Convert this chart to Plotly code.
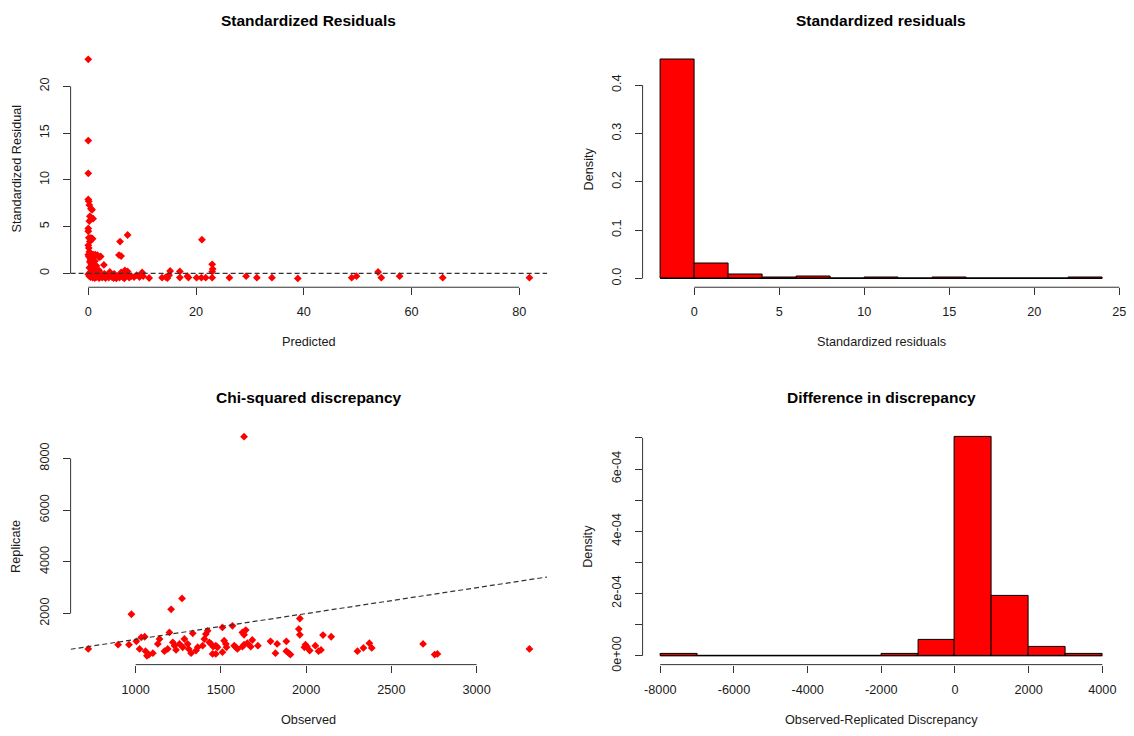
import plotly.graph_objects as go

# ---------------- Data ----------------
# Panel 1: Standardized residuals vs predicted
pred = [0.0, 0.0, 0.0, 0.0, 0.1, 0.2, 0.5, 0.7, 0.3, 0.6, 0.9, 0.2, 0.0, 0.0, 0.1, 0.5, 0.8, 0.3, 0.0, 0.1,
        0.2, 0.0, 0.5, 1.0, 1.3, 1.7, 2.0, 2.3, 0.4, 0.8, 1.2, 0.3, 0.6, 1.0, 1.5, 2.9, 0.2, 0.7, 1.3, 2.0,
        0.1, 0.4, 0.9, 1.1, 0.5, 1.6,
        5.9, 7.3, 5.7, 6.1, 21.1, 23.0, 23.1, 23.0,
        0.0, 0.2, 0.4, 0.6, 0.8, 1.0, 1.2, 1.5, 1.8, 2.0, 2.3, 2.6, 2.9, 3.2, 3.5, 3.8, 4.1, 4.4, 4.7, 5.0,
        5.2, 5.5, 5.8, 6.1, 6.4, 6.7, 7.0, 7.3, 7.6, 8.0, 8.5, 9.0, 9.5, 10.0, 10.2, 4.0, 6.8, 3.0, 0.3, 1.3,
        2.2, 4.8,
        11.3, 13.7, 14.4, 14.7, 15.2, 15.0, 17.0, 17.0, 18.4, 18.6, 20.1, 21.0, 21.8, 23.0, 26.2, 29.3, 31.3,
        34.1, 38.9, 48.9, 49.8, 53.8, 54.4, 57.8, 65.8, 81.9]
std_resid = [22.9, 14.2, 10.7, 7.9, 7.7, 7.3, 6.9, 6.8, 6.1, 5.9, 5.85, 5.6, 4.8, 4.5, 3.8, 3.8, 3.7, 3.4, 3.0, 2.7,
             2.3, 2.0, 2.1, 2.0, 2.0, 1.95, 1.7, 1.8, 1.6, 1.5, 1.3, 1.2, 1.0, 0.9, 0.8, 0.9, 0.6, 0.5, 0.4, 0.3,
             1.8, 1.4, 1.1, 0.7, 0.2, 0.2,
             3.4, 4.1, 1.95, 1.85, 3.6, 0.96, 0.46, 0.18,
             -0.1, -0.3, -0.4, -0.2, -0.45, -0.3, -0.5, -0.4, -0.2, -0.5, -0.35, -0.45, -0.2, -0.5, -0.3, -0.45,
             -0.1, -0.4, -0.5, -0.2, -0.55, -0.3, -0.45, 0.1, -0.4, -0.55, -0.2, 0.2, -0.45, -0.3, -0.4, -0.2,
             -0.4, 0.1, -0.3, 0.15, 0.3, -0.05, 0.0, -0.15, 0.05, -0.05,
             -0.5, -0.46, -0.4, -0.5, 0.25, -0.2, 0.2, -0.45, -0.3, -0.45, -0.46, -0.46, -0.46, -0.46, -0.46,
             -0.3, -0.46, -0.46, -0.55, -0.46, -0.3, 0.14, -0.46, -0.3, -0.46, -0.46]

# Panel 2: histogram of standardized residuals (density)
resid_breaks = [-2, 0, 2, 4, 6, 8, 10, 12, 14, 16, 18, 20, 22, 24]
resid_density = [0.4535, 0.030, 0.0082, 0.002, 0.004, 0.0, 0.001, 0.0, 0.001, 0.0, 0.0, 0.0, 0.001]

# Panel 3: chi-squared discrepancy, observed vs replicate
observed = [722, 897, 961, 975, 1004, 1033, 1053, 1023, 1058, 1078, 1066, 1101, 1130, 1140, 1169, 1188,
            1198, 1208, 1218, 1228, 1237, 1257, 1276, 1272, 1286, 1305, 1311, 1325, 1335, 1354, 1364,
            1393, 1403, 1412, 1422, 1432, 1442, 1455, 1470, 1480, 1451, 1470, 1509, 1509, 1519, 1529,
            1533, 1568, 1578, 1588, 1626, 1646, 1636, 1597, 1636, 1655, 1626, 1684, 1675, 1717, 1791,
            1830, 1820, 1884, 1884, 1898, 1908, 1963, 1957, 1963, 1996, 1990, 2005, 2021, 2054, 2087,
            2073, 2099, 2147, 2301, 2336, 2371, 2385, 2686, 2754, 2770, 3310, 1636]
replicate = [632, 797, 797, 1973, 927, 1080, 1103, 632, 544, 414, 364, 467, 824, 1015, 544, 632,
             1272, 2165, 889, 759, 594, 824, 697, 2586, 1015, 824, 632, 467, 1234, 567, 697,
             759, 1015, 1207, 1333, 889, 824, 720, 759, 697, 440, 440, 1464, 506, 950, 824,
             697, 1525, 759, 697, 1272, 1360, 1180, 632, 797, 851, 720, 977, 720, 759, 927,
             824, 467, 927, 544, 467, 414, 1808, 1398, 1180, 797, 697, 720, 567, 759, 594,
             544, 1169, 1103, 544, 670, 851, 670, 824, 414, 440, 632, 8843]

# Panel 4: histogram of observed - replicated discrepancy (density)
diff_breaks = [-8000, -7000, -6000, -5000, -4000, -3000, -2000, -1000, 0, 1000, 2000, 3000, 4000]
diff_density = [5e-6, 0, 0, 0, 0, 0, 5e-6, 5e-5, 7.04e-4, 1.93e-4, 3.0e-5, 5e-6]

# Tick values / labels
p1_xticks = [0, 20, 40, 60, 80]
p1_yticks = [0, 5, 10, 15, 20]
p2_xticks = [0, 5, 10, 15, 20, 25]
p2_yticks = [0.0, 0.1, 0.2, 0.3, 0.4]
p2_ylabels = ["0.0", "0.1", "0.2", "0.3", "0.4"]
p3_xticks = [1000, 1500, 2000, 2500, 3000]
p3_yticks = [2000, 4000, 6000, 8000]
p4_xticks = [-8000, -6000, -4000, -2000, 0, 2000, 4000]
p4_xlabels = ["-8000", "-6000", "-4000", "-2000", "0", "2000", "4000"]
p4_yticks = [0, 1e-4, 2e-4, 3e-4, 4e-4, 5e-4, 6e-4, 7e-4]
p4_ylabels = ["0e+00", "", "2e-04", "", "4e-04", "", "6e-04", ""]

titles = ["Standardized Residuals", "Standardized residuals", "Chi-squared discrepancy", "Difference in discrepancy"]
xtitles = ["Predicted", "Standardized residuals", "Observed", "Observed-Replicated Discrepancy"]
ytitles = ["Standardized Residual", "Density", "Replicate", "Density"]

# ---------------- Helpers ----------------
FONT = "Liberation Sans, Arial, Helvetica, sans-serif"
RED = "#ff0000"
W, H = 1134, 736
TXT = "#1a1a1a"
FS = 12.7


def r_range(lo, hi):
    span = hi - lo
    return [lo - 0.04 * span, hi + 0.04 * span]


fig = go.Figure()

# Panel 1 scatter
fig.add_trace(go.Scatter(x=pred, y=std_resid, mode="markers", xaxis="x", yaxis="y",
                         marker=dict(symbol="diamond", size=6, color=RED, line=dict(width=0))))

# Panel 2 histogram
c2 = [(a + b) / 2 for a, b in zip(resid_breaks[:-1], resid_breaks[1:])]
w2 = [b - a for a, b in zip(resid_breaks[:-1], resid_breaks[1:])]
fig.add_trace(go.Scatter(x=[resid_breaks[0], resid_breaks[-1]], y=[0, 0], mode="lines",
                         line=dict(color="black", width=1), xaxis="x2", yaxis="y2"))
fig.add_trace(go.Bar(x=c2, y=resid_density, width=w2, xaxis="x2", yaxis="y2",
                     marker=dict(color=RED, line=dict(color="black", width=1))))

# Panel 3 scatter
fig.add_trace(go.Scatter(x=observed, y=replicate, mode="markers", xaxis="x3", yaxis="y3",
                         marker=dict(symbol="diamond", size=6, color=RED, line=dict(width=0))))

# Panel 4 histogram
c4 = [(a + b) / 2 for a, b in zip(diff_breaks[:-1], diff_breaks[1:])]
w4 = [b - a for a, b in zip(diff_breaks[:-1], diff_breaks[1:])]
fig.add_trace(go.Scatter(x=[diff_breaks[0], diff_breaks[-1]], y=[0, 0], mode="lines",
                         line=dict(color="black", width=1), xaxis="x4", yaxis="y4"))
fig.add_trace(go.Bar(x=c4, y=diff_density, width=w4, xaxis="x4", yaxis="y4",
                     marker=dict(color=RED, line=dict(color="black", width=1))))

# Ranges (R style: data range extended by 4%)
rx1 = r_range(min(pred), max(pred))
ry1 = r_range(min(std_resid), max(std_resid))
rx2 = r_range(resid_breaks[0], resid_breaks[-1])
ry2 = r_range(0, max(resid_density))
rx3 = r_range(min(observed), max(observed))
ry3 = r_range(min(replicate), max(replicate))
rx4 = r_range(diff_breaks[0], diff_breaks[-1])
ry4 = r_range(0, max(diff_density))

dom_xl = [71 / W, 550 / W]
dom_xr = [646 / W, 1126 / W]
dom_yt = [1 - 290 / H, 1 - 51 / H]
dom_yb = [1 - 671 / H, 1 - 432 / H]

tickfont = dict(family=FONT, size=FS, color=TXT)


def xax(dom, rng, tv, anchor, tt=None):
    d = dict(domain=dom, range=rng, tickvals=tv, ticks="outside", ticklen=7, tickwidth=1,
             tickcolor="#333", showline=False, showgrid=False, zeroline=False, anchor=anchor,
             tickfont=tickfont, ticklabelstandoff=6)
    if tt is not None:
        d["ticktext"] = tt
    return d


def yax(dom, rng, tv, anchor, tt=None):
    d = dict(domain=dom, range=rng, tickvals=tv, ticks="outside", ticklen=7, tickwidth=1,
             tickcolor="#333", showline=False, showgrid=False, zeroline=False, anchor=anchor,
             tickfont=tickfont, tickangle=-90, ticklabelstandoff=9)
    if tt is not None:
        d["ticktext"] = tt
    return d


fig.update_layout(
    width=W, height=H, margin=dict(l=0, r=0, t=0, b=0),
    paper_bgcolor="white", plot_bgcolor="white", showlegend=False, bargap=0,
    font=dict(family=FONT, size=FS, color=TXT),
    xaxis=xax(dom_xl, rx1, p1_xticks, "y"),
    yaxis=yax(dom_yt, ry1, p1_yticks, "x"),
    xaxis2=xax(dom_xr, rx2, p2_xticks, "y2"),
    yaxis2=yax(dom_yt, ry2, p2_yticks, "x2", p2_ylabels),
    xaxis3=xax(dom_xl, rx3, p3_xticks, "y3"),
    yaxis3=yax(dom_yb, ry3, p3_yticks, "x3"),
    xaxis4=xax(dom_xr, rx4, p4_xticks, "y4", p4_xlabels),
    yaxis4=yax(dom_yb, ry4, p4_yticks, "x4", p4_ylabels),
)

shapes = []
annotations = []
panels = [("x", "y", p1_xticks, p1_yticks), ("x2", "y2", p2_xticks, p2_yticks),
          ("x3", "y3", p3_xticks, p3_yticks), ("x4", "y4", p4_xticks, p4_yticks)]
for i, (xa, ya, xt, yt) in enumerate(panels):
    # R-style axis lines spanning first to last tick
    shapes.append(dict(type="line", xref=xa, yref=f"{ya} domain", x0=xt[0], x1=xt[-1], y0=0, y1=0,
                       line=dict(color="#333", width=1)))
    shapes.append(dict(type="line", xref=f"{xa} domain", yref=ya, x0=0, x1=0, y0=yt[0], y1=yt[-1],
                       line=dict(color="#333", width=1)))
    annotations.append(dict(text=f"<b>{titles[i]}</b>", xref=f"{xa} domain", yref=f"{ya} domain",
                            x=0.5, y=1, yshift=30, showarrow=False, yanchor="middle",
                            font=dict(family=FONT, size=15.5, color="black")))
    annotations.append(dict(text=xtitles[i], xref=f"{xa} domain", yref=f"{ya} domain",
                            x=0.5, y=0, yshift=-55, showarrow=False, yanchor="middle",
                            font=dict(family=FONT, size=FS, color=TXT)))
    annotations.append(dict(text=ytitles[i], xref=f"{xa} domain", yref=f"{ya} domain",
                            x=0, y=0.5, xshift=-54, showarrow=False, xanchor="center", textangle=-90,
                            font=dict(family=FONT, size=FS, color=TXT)))

# reference lines
shapes.append(dict(type="line", xref="x domain", yref="y", x0=0, x1=1, y0=0, y1=0,
                   line=dict(color="#333", width=1.2, dash="5px,3px")))
shapes.append(dict(type="line", xref="x3", yref="y3", x0=rx3[0], x1=rx3[1], y0=rx3[0], y1=rx3[1],
                   line=dict(color="#333", width=1.2, dash="5px,3px")))

fig.update_layout(shapes=shapes, annotations=annotations)
fig.write_html("out.html")
